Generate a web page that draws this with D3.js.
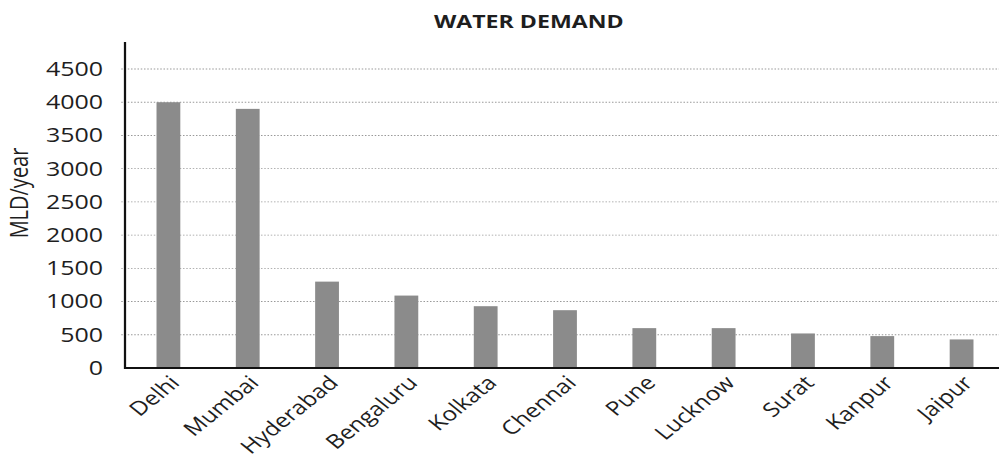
<!DOCTYPE html>
<html>
<head>
<meta charset="utf-8">
<script src="https://cdn.jsdelivr.net/npm/d3@7/dist/d3.min.js"></script>
<style>
  html, body { margin: 0; padding: 0; background: #fff; }
  svg { display: block; }
  text { font-family: "Open Sans", "Noto Sans", sans-serif; fill: #1e1e1e; }
</style>
</head>
<body>
<div id="chart"></div>
<script>
// ---- data ----
const categories = ["Delhi", "Mumbai", "Hyderabad", "Bengaluru", "Kolkata", "Chennai", "Pune", "Lucknow", "Surat", "Kanpur", "Jaipur"];
const demand = [4000, 3900, 1300, 1090, 930, 870, 600, 600, 520, 480, 430];
const yTicks = [0, 500, 1000, 1500, 2000, 2500, 3000, 3500, 4000, 4500];
const chartTitle = "WATER DEMAND";
const yTitle = "MLD/year";

// ---- layout (the source scan is horizontally stretched; reproduce via viewBox) ----
const W = 999, H = 461, SX = 1.25;
const IW = W / SX;
const axisX = 100;

const svg = d3.select("#chart").append("svg")
  .attr("width", W).attr("height", H)
  .attr("viewBox", `0 0 ${IW} ${H}`)
  .attr("preserveAspectRatio", "none");

const x = d3.scaleBand().domain(categories).range([103, 801]).paddingInner(0.7).paddingOuter(0.35);
const y = d3.scaleLinear().domain([0, 4500]).range([368, 69]);

// gridlines
svg.append("g").selectAll("line").data(yTicks.slice(1)).join("line")
  .attr("x1", axisX - 3).attr("x2", IW)
  .attr("y1", d => y(d)).attr("y2", d => y(d))
  .attr("stroke", "#999").attr("stroke-width", 0.9)
  .attr("stroke-dasharray", "1.2,1.4");

// bars
svg.append("g").selectAll("rect").data(demand).join("rect")
  .attr("x", (d, i) => x(categories[i]))
  .attr("width", x.bandwidth())
  .attr("y", d => y(d))
  .attr("height", d => y(0) - y(d))
  .attr("fill", "#8b8b8b");

// y axis
const yAxis = svg.append("g").attr("transform", `translate(${axisX},0)`)
  .call(d3.axisLeft(y).tickValues(yTicks).tickFormat(d3.format("d")).tickSize(0).tickPadding(17.5));
yAxis.select(".domain").remove();
yAxis.selectAll("text").attr("font-size", 20).attr("fill", "#1e1e1e")
  .style("font-family", '"Open Sans", sans-serif');
svg.append("line").attr("x1", axisX).attr("x2", axisX).attr("y1", 42).attr("y2", y(0) + 1)
  .attr("stroke", "#111").attr("stroke-width", 1.8);

// x axis
const xAxis = svg.append("g").attr("transform", `translate(0,${y(0)})`)
  .call(d3.axisBottom(x).tickSize(0));
xAxis.select(".domain").remove();
xAxis.selectAll("text")
  .attr("font-size", 19.5).attr("fill", "#1e1e1e")
  .style("font-family", '"Open Sans", sans-serif')
  .attr("text-anchor", "end")
  .attr("x", 0).attr("y", 0).attr("dy", 0)
  .attr("transform", "translate(10,16) rotate(-45)");
svg.append("line").attr("x1", axisX).attr("x2", IW).attr("y1", y(0)).attr("y2", y(0))
  .attr("stroke", "#111").attr("stroke-width", 2);

// titles
svg.append("text").attr("x", 423).attr("y", 28).attr("text-anchor", "middle")
  .attr("font-size", 18.5).attr("font-weight", 700).text(chartTitle);
svg.append("text").attr("transform", "translate(22,193) rotate(-90)")
  .attr("text-anchor", "middle").attr("font-size", 20).text(yTitle);
</script>
</body>
</html>
